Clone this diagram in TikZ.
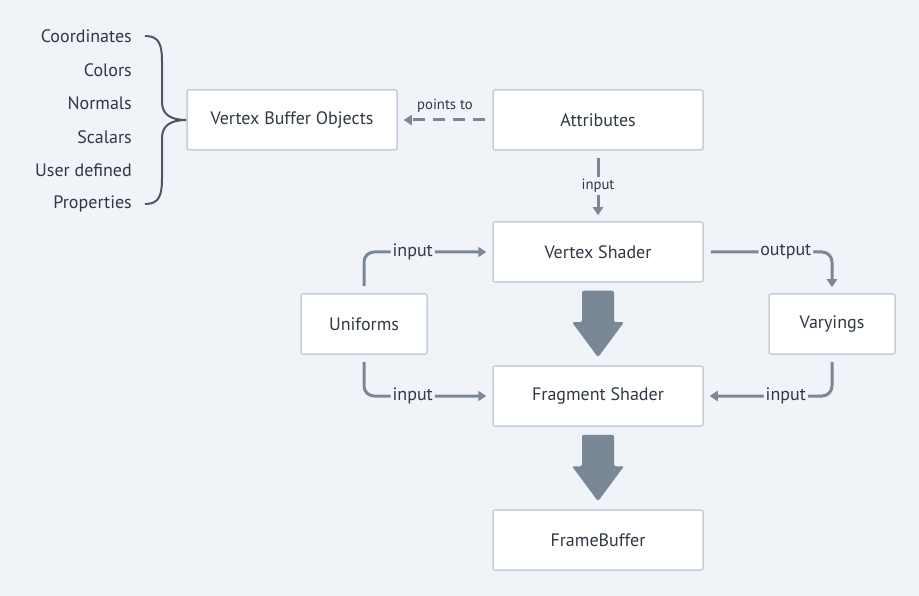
\documentclass[tikz,border=0pt]{standalone}
\usepackage{fontspec}
\setmainfont{PT Sans}
\usetikzlibrary{calc,arrows.meta}
\definecolor{bg}{HTML}{F0F4F8}
\definecolor{boxline}{HTML}{C5CFD9}
\definecolor{conn}{HTML}{7A8795}
\definecolor{txt}{HTML}{2F3843}
\definecolor{brace}{HTML}{4B5664}
\tikzset{
	stage/.style={draw=boxline, line width=1.5pt, fill=white, rounded corners=2pt,
		minimum width=210pt, minimum height=60pt, text=txt, font=\fontsize{18}{20}\selectfont},
	smallstage/.style={stage, minimum width=126pt},
	conn/.style={draw=conn, line width=3pt, -{Triangle[width=10pt,length=8pt]},
		shorten <=7pt, shorten >=6pt},
	lbl/.style={fill=bg, text=txt, inner sep=2pt, font=\fontsize{18}{20}\selectfont},
	smalllbl/.style={lbl, font=\fontsize{14.7}{16}\selectfont},
	item/.style={anchor=east, text=txt, inner sep=0pt, font=\fontsize{18}{20}\selectfont}
}
\newcommand{\bigarrow}[2]{
	\fill [conn!100, rounded corners=2pt] ($(#1.south)+(-16,8)$) -- ($(#1.south)+(16,8)$)
		-- ($(#2.north)+(16,-43)$) -- ($(#2.north)+(26,-43)$) -- ($(#2.north)+(0,-8)$)
		-- ($(#2.north)+(-26,-43)$) -- ($(#2.north)+(-16,-43)$) -- cycle;
}
\begin{document}
\begin{tikzpicture}[x=1pt, y=-1pt]
\fill [bg] (0,0) rectangle (919,596);
\useasboundingbox (0,0) rectangle (919,596);

% stages
\node [stage] (vbo) at (292,120) {Vertex Buffer Objects};
\node [stage] (attr) at (598,120) {Attributes};
\node [stage] (vs) at (598,252) {Vertex Shader};
\node [smallstage] (uni) at (364,324) {Uniforms};
\node [smallstage] (var) at (832,324) {Varyings};
\node [stage] (fs) at (598,396) {Fragment Shader};
\node [stage] (fb) at (598,540) {FrameBuffer};

% buffer contents
\foreach \name/\y/\txt in {coord/36/Coordinates, col/70/Colors, norm/103/Normals,
	scal/137/Scalars, user/170/User defined, prop/204/Properties}
	\node [item] (\name) at (132,\y) {\txt};
\draw [brace, line width=2pt] ($(coord.east)+(13,0)$) .. controls +(14,0) and (162,44) .. (162,62)
	-- (162,102) .. controls (162,114) and (170,120) .. (vbo.west)
	.. controls (170,120) and (162,126) .. (162,138) -- (162,178)
	.. controls (162,196) and ($(prop.east)+(27,0)$) .. ($(prop.east)+(13,0)$);

% connectors
\draw [conn, dashed, dash pattern=on 12pt off 8pt] (attr.west) -- node [smalllbl, fill=none, above=4pt] {points to} (vbo.east);
\draw [conn] (attr.south) -- node [smalllbl] {input} (vs.north);
\draw [conn, rounded corners=10pt] (uni.north) |- node [lbl, pos=0.69] {input} (vs.west);
\draw [conn, rounded corners=10pt] (uni.south) |- node [lbl, pos=0.69] {input} (fs.west);
\draw [conn, rounded corners=10pt] (vs.east) -| node [lbl, pos=0.32] {output} (var.north);
\draw [conn, rounded corners=10pt] (var.south) |- node [lbl, pos=0.68] {input} (fs.east);

\bigarrow{vs}{fs}
\bigarrow{fs}{fb}
\end{tikzpicture}
\end{document}
